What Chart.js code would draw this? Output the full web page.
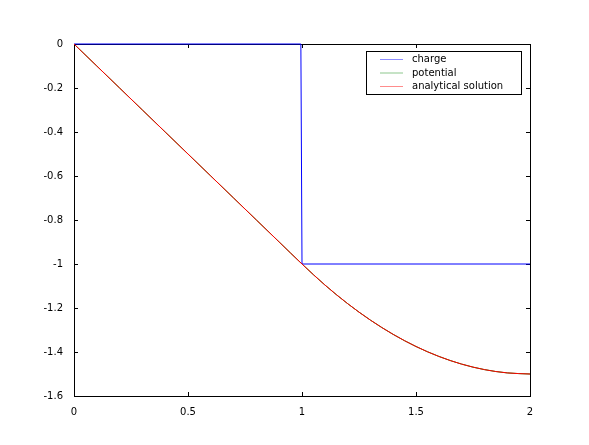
<!DOCTYPE html>
<html>
<head>
<meta charset="utf-8">
<script src="https://cdn.jsdelivr.net/npm/chart.js@4/dist/chart.umd.min.js"></script>
<style>
  html, body { margin: 0; padding: 0; background: #fff; }
  #wrap { width: 589px; height: 445px; }
</style>
</head>
<body>
<div id="wrap"><canvas id="myChart" width="589" height="445"></canvas></div>
<script>
// x positions and values
var chargeX = [0, 0.995, 1.0, 2.0];
var chargeY = [0, 0, -1, -1];

var solX = [0, 0.1, 0.2, 0.3, 0.4, 0.5, 0.6, 0.7, 0.8, 0.9, 1.0,
            1.1, 1.2, 1.3, 1.4, 1.5, 1.6, 1.7, 1.8, 1.9, 2.0];
var potentialY = [0, -0.1, -0.2, -0.3, -0.4, -0.5, -0.6, -0.7, -0.8, -0.9, -1.0,
                  -1.095, -1.18, -1.255, -1.32, -1.375, -1.42, -1.455, -1.48, -1.495, -1.5];
var analyticalY = [0, -0.1, -0.2, -0.3, -0.4, -0.5, -0.6, -0.7, -0.8, -0.9, -1.0,
                   -1.095, -1.18, -1.255, -1.32, -1.375, -1.42, -1.455, -1.48, -1.495, -1.5];

var xTicks = [0, 0.5, 1, 1.5, 2];
var yTicks = [0, -0.2, -0.4, -0.6, -0.8, -1, -1.2, -1.4, -1.6];

function pts(xs, ys) {
  return xs.map(function (x, i) { return { x: x, y: ys[i] }; });
}

var FONT = "DejaVu Sans";

// frame and inward ticks under the lines, legend box over them
var mplFrame = {
  id: 'mplFrame',
  beforeDatasetsDraw: function (chart) {
    var c = chart.ctx, a = chart.chartArea;
    var xs = chart.scales.x, ys = chart.scales.y;
    c.save();
    c.strokeStyle = '#000';
    c.lineWidth = 1;
    c.beginPath();
    xTicks.forEach(function (v) {
      var px = Math.round(xs.getPixelForValue(v)) + 0.5;
      c.moveTo(px, a.bottom); c.lineTo(px, a.bottom - 4);
      c.moveTo(px, a.top); c.lineTo(px, a.top + 4);
    });
    yTicks.forEach(function (v) {
      var py = Math.round(ys.getPixelForValue(v)) + 0.5;
      c.moveTo(a.left, py); c.lineTo(a.left + 4, py);
      c.moveTo(a.right, py); c.lineTo(a.right - 4, py);
    });
    c.stroke();
    c.strokeRect(Math.round(a.left) + 0.5, Math.round(a.top) + 0.5,
                 Math.round(a.right - a.left), Math.round(a.bottom - a.top));
    c.restore();
  },
  afterDatasetsDraw: function (chart) {
    var c = chart.ctx;
    c.save();
    c.lineWidth = 1;
    var lx = 366.5, ly = 51.5, lw = 155, lh = 43;
    c.fillStyle = '#fff';
    c.strokeStyle = '#000';
    c.fillRect(lx, ly, lw, lh);
    c.strokeRect(lx, ly, lw, lh);
    c.font = '10px "' + FONT + '"';
    c.textBaseline = 'middle';
    chart.data.datasets.forEach(function (d, i) {
      var y = 59.5 + i * 13.5;
      c.strokeStyle = d.borderColor;
      c.globalAlpha = 0.45;
      c.beginPath(); c.moveTo(380, y); c.lineTo(403, y); c.stroke();
      c.globalAlpha = 1;
      c.fillStyle = '#000';
      c.fillText(d.label, 412, y);
    });
    c.restore();
  }
};

var ctx = document.getElementById("myChart");
var myChart = new Chart(ctx, {
  type: 'line',
  data: {
    datasets: [
      {
        label: "charge",
        data: pts(chargeX, chargeY),
        borderColor: "#0000ff",
        borderWidth: 1,
        pointRadius: 0,
        fill: false,
        clip: 3,
        order: 2
      },
      {
        label: "potential",
        data: pts(solX, potentialY),
        borderColor: "#008000",
        borderWidth: 1,
        pointRadius: 0,
        cubicInterpolationMode: 'monotone',
        fill: false,
        clip: 3,
        order: 1
      },
      {
        label: "analytical solution",
        data: pts(solX, analyticalY),
        borderColor: "#ff0000",
        borderWidth: 1,
        pointRadius: 0,
        cubicInterpolationMode: 'monotone',
        fill: false,
        clip: 3,
        order: 0
      }
    ]
  },
  options: {
    responsive: false,
    animation: false,
    layout: { padding: { left: 0, top: 44, right: 59, bottom: 0 } },
    plugins: { legend: { display: false }, tooltip: { enabled: false } },
    scales: {
      x: {
        type: 'linear',
        min: 0, max: 2,
        afterFit: function (s) { s.height = 49; },
        afterBuildTicks: function (s) { s.ticks = xTicks.map(function (v) { return { value: v }; }); },
        grid: { display: false },
        border: { display: false },
        ticks: {
          color: '#000',
          padding: 2,
          maxRotation: 0,
          font: { family: FONT, size: 10 },
          callback: function (v) { return String(v); }
        }
      },
      y: {
        type: 'linear',
        min: -1.6, max: 0,
        afterFit: function (s) { s.width = 74; },
        afterBuildTicks: function (s) { s.ticks = yTicks.map(function (v) { return { value: v }; }); },
        grid: { display: false },
        border: { display: false },
        ticks: {
          color: '#000',
          padding: 3,
          font: { family: FONT, size: 10 },
          callback: function (v) { return String(Math.round(v * 10) / 10); }
        }
      }
    }
  },
  plugins: [mplFrame]
});
</script>
</body>
</html>
